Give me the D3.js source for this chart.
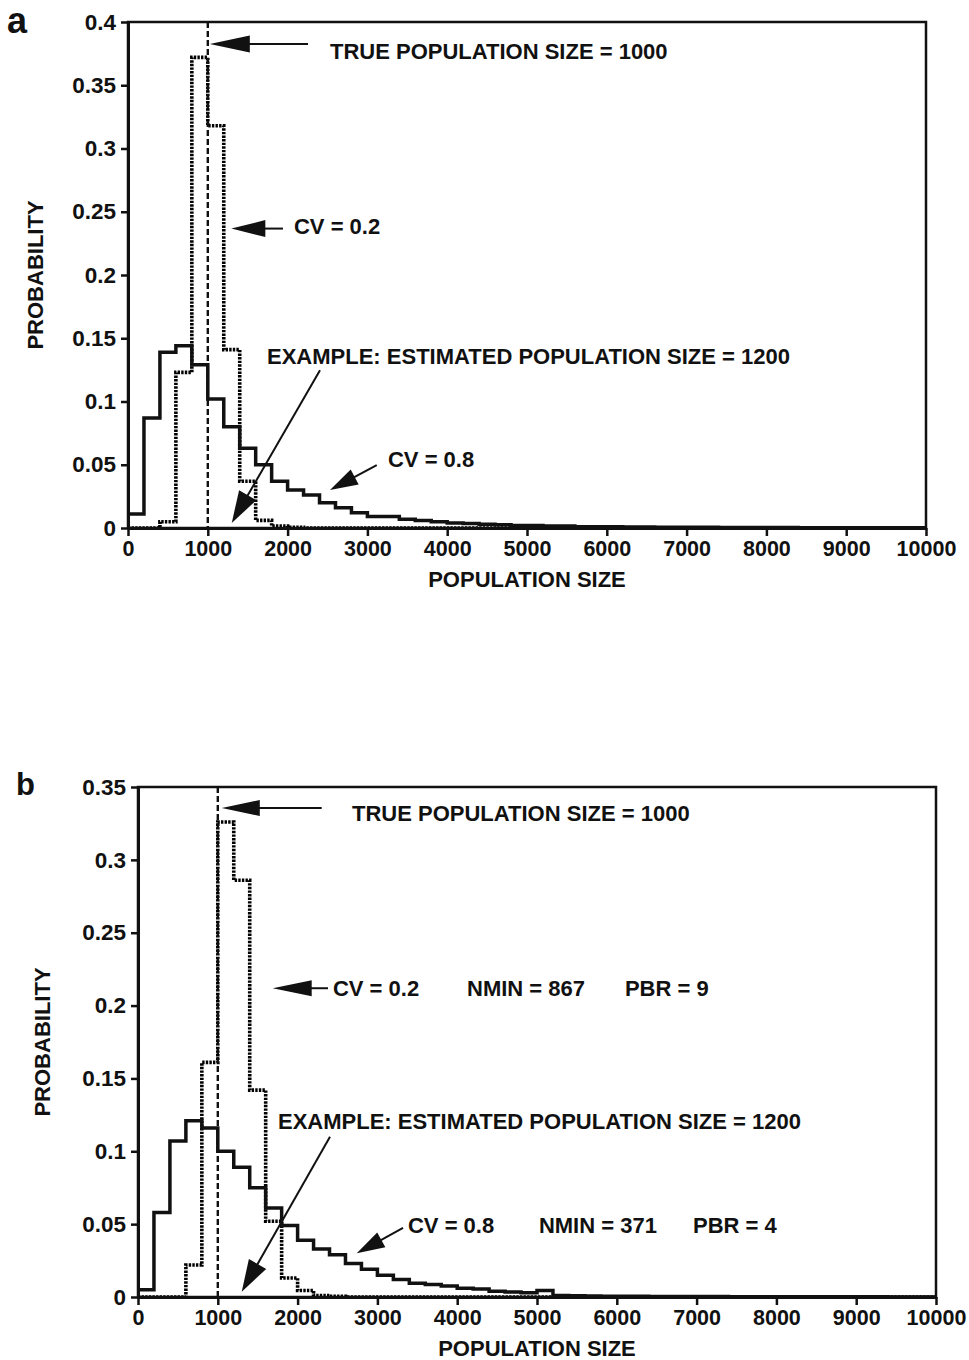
<!DOCTYPE html>
<html lang="en">
<head>
<meta charset="UTF-8">
<title>Population size - probability histograms</title>
<script src="https://cdn.jsdelivr.net/npm/d3@7"></script>
<style>
    body{
        margin: 0;
        background: #fff;
    }
    text{
        font-family: "Liberation Sans", Arial, sans-serif;
        font-weight: bold;
        fill: #111;
    }
    .axis text{
        font-size: 21.5px;
    }
    .axis.y text{
        font-size: 22.5px;
    }
    .axis line{
        stroke: #111;
        stroke-width: 2.5px;
    }
    .axis path{
        stroke: #111;
        stroke-width: 3px;
    }
    .frame{
        fill: none;
        stroke: #111;
        stroke-width: 2.5px;
    }
    .cv08{
        fill: none;
        stroke: #111;
        stroke-width: 3.5px;
    }
    .cv02{
        fill: none;
        stroke: #000;
        stroke-width: 3.6px;
        stroke-dasharray: 2.4 1.2;
    }
    .truth{
        stroke: #111;
        stroke-width: 2.4px;
        stroke-dasharray: 6 3;
    }
    .note{
        font-size: 22px;
    }
    .arrow-line{
        stroke: #111;
        stroke-width: 2px;
    }
    .arrow-head{
        fill: #111;
    }
</style>
</head>
<body>
<svg id="canvas" width="969" height="1360"></svg>

<script>
    // bins of 200 from 0 to 10000
    const binWidth = 200
    const xMax = 10000
    const xTicks = [0, 1000, 2000, 3000, 4000, 5000, 6000, 7000, 8000, 9000, 10000]
    const yTicksA = [0, 0.05, 0.1, 0.15, 0.2, 0.25, 0.3, 0.35, 0.4]
    const yTicksB = [0, 0.05, 0.1, 0.15, 0.2, 0.25, 0.3, 0.35]
    const trueSize = 1000

    // panel a
    const probA_cv08 = [0.011, 0.087, 0.139, 0.144, 0.129, 0.102, 0.080, 0.063, 0.050, 0.037,
        0.030, 0.026, 0.020, 0.016, 0.012, 0.009, 0.009, 0.007, 0.006, 0.005,
        0.004, 0.0035, 0.003, 0.0025, 0.002, 0.002, 0.0015, 0.0015, 0.001, 0.001,
        0.001, 0.0008, 0.0008, 0.0006, 0.0006, 0.0005, 0.0005, 0.0004, 0.0004, 0.0003,
        0.0003, 0.0003, 0.0002, 0.0002, 0.0002, 0.0002, 0.0001, 0.0001, 0.0001, 0.0001]
    const probA_cv02 = [0, 0, 0.005, 0.123, 0.372, 0.318, 0.141, 0.037, 0.006, 0.0015,
        0.0005, 0, 0, 0, 0, 0, 0, 0, 0, 0,
        0, 0, 0, 0, 0, 0, 0, 0, 0, 0,
        0, 0, 0, 0, 0, 0, 0, 0, 0, 0,
        0, 0, 0, 0, 0, 0, 0, 0, 0, 0]

    // panel b
    const probB_cv08 = [0.005, 0.058, 0.107, 0.121, 0.116, 0.100, 0.089, 0.075, 0.061, 0.049,
        0.039, 0.033, 0.029, 0.023, 0.019, 0.015, 0.012, 0.0094, 0.0085, 0.0075,
        0.006, 0.0055, 0.004, 0.0035, 0.003, 0.0045, 0.001, 0.0008, 0.0007, 0.0006,
        0.0005, 0.0005, 0.0004, 0.0004, 0.0003, 0.0003, 0.0003, 0.0002, 0.0002, 0.0002,
        0.0002, 0.0001, 0.0001, 0.0001, 0.0001, 0.0001, 0.0001, 0, 0, 0]
    const probB_cv02 = [0, 0, 0, 0.022, 0.161, 0.326, 0.286, 0.142, 0.052, 0.013,
        0.0045, 0.001, 0.0005, 0, 0, 0, 0, 0, 0, 0,
        0, 0, 0, 0, 0, 0, 0, 0, 0, 0,
        0, 0, 0, 0, 0, 0, 0, 0, 0, 0,
        0, 0, 0, 0, 0, 0, 0, 0, 0, 0]

    const labelTrue = "TRUE POPULATION SIZE = 1000"
    const labelExample = "EXAMPLE: ESTIMATED POPULATION SIZE = 1200"
    const labelCV02 = "CV = 0.2"
    const labelCV08 = "CV = 0.8"
    const extrasB02 = ["NMIN = 867", "PBR = 9"]
    const extrasB08 = ["NMIN = 371", "PBR = 4"]

    let svg = d3.select("#canvas")

    function arrow(g, sx, sy, tx, ty, len, half){
        const a = Math.atan2(ty - sy, tx - sx)
        const bx = tx - len * Math.cos(a), by = ty - len * Math.sin(a)
        const px = -Math.sin(a) * half, py = Math.cos(a) * half
        g.append("line").attr("class", "arrow-line")
            .attr("x1", sx).attr("y1", sy).attr("x2", bx + 2 * Math.cos(a)).attr("y2", by + 2 * Math.sin(a))
        g.append("path").attr("class", "arrow-head")
            .attr("d", `M${tx},${ty}L${bx + px},${by + py}L${bx - px},${by - py}Z`)
    }

    function panel(cfg){
        let g = svg.append("g")
        let x = d3.scaleLinear().domain([0, xMax]).range([cfg.left, cfg.right])
        let y = d3.scaleLinear().domain([0, cfg.yMax]).range([cfg.bottom, cfg.top])

        let step = d3.line()
            .x(d => x(d[0]))
            .y(d => y(d[1]))
            .curve(d3.curveStepAfter)
        const toPoints = vals => {
            let pts = vals.map((v, i) => [i * binWidth, v])
            pts.push([xMax, vals[vals.length - 1]])
            return pts
        }

        g.append("rect").attr("class", "frame")
            .attr("x", cfg.left).attr("y", cfg.top)
            .attr("width", cfg.right - cfg.left).attr("height", cfg.bottom - cfg.top)

        g.append("path").attr("class", "cv02").attr("d", step(toPoints(cfg.cv02)))
        g.append("path").attr("class", "cv08").attr("d", step(toPoints(cfg.cv08)))

        g.append("line").attr("class", "truth")
            .attr("x1", x(trueSize)).attr("x2", x(trueSize))
            .attr("y1", y(cfg.yMax)).attr("y2", y(0))

        g.append("g").attr("class", "axis x")
            .attr("transform", `translate(0,${cfg.bottom})`)
            .call(d3.axisBottom(x).tickValues(xTicks).tickSize(8).tickSizeOuter(0).tickPadding(5).tickFormat(d3.format("d")))
        g.append("g").attr("class", "axis y")
            .attr("transform", `translate(${cfg.left},0)`)
            .call(d3.axisLeft(y).tickValues(cfg.yTicks).tickSize(7).tickSizeOuter(0).tickPadding(5).tickFormat(d => String(d)))

        // axis titles and panel letter
        g.append("text").text("POPULATION SIZE")
            .attr("x", (cfg.left + cfg.right) / 2).attr("y", cfg.xTitleY)
            .attr("text-anchor", "middle").style("font-size", "22px")
        g.append("text").text("PROBABILITY")
            .attr("transform", `translate(${cfg.yTitleX},${(cfg.top + cfg.bottom) / 2}) rotate(-90)`)
            .attr("text-anchor", "middle").style("font-size", "22px")
        g.append("text").text(cfg.letter)
            .attr("x", cfg.letterPos[0]).attr("y", cfg.letterPos[1])
            .style("font-size", cfg.letterSize + "px")
            .style("font-weight", 900)

        // annotations, placed in data units
        cfg.notes.forEach(n => {
            g.append("text").attr("class", "note").text(n.text)
                .attr("x", x(n.at[0])).attr("y", y(n.at[1]))
        })
        cfg.arrows.forEach(a => {
            arrow(g, x(a.from[0]), y(a.from[1]), x(a.to[0]), y(a.to[1]), a.len, a.half)
        })
    }

    panel({
        left: 128, right: 926, top: 22, bottom: 528, yMax: 0.4, yTicks: yTicksA,
        cv08: probA_cv08, cv02: probA_cv02,
        xTitleY: 587, yTitleX: 43, letter: "a", letterPos: [7, 33], letterSize: 36,
        notes: [
            {text: labelTrue, at: [2531, 0.371]},
            {text: labelCV02, at: [2080, 0.2327]},
            {text: labelExample, at: [1742, 0.1294]},
            {text: labelCV08, at: [3258, 0.0481]}
        ],
        arrows: [
            {from: [2256, 0.3826], to: [1025, 0.3826], len: 40, half: 8.5},
            {from: [1942, 0.2367], to: [1295, 0.2367], len: 34, half: 8.5},
            {from: [2406, 0.1247], to: [1300, 0.004], len: 32, half: 10},
            {from: [3117, 0.0497], to: [2531, 0.030], len: 28, half: 8.5}
        ]
    })

    panel({
        left: 138, right: 936, top: 787, bottom: 1297, yMax: 0.35, yTicks: yTicksB,
        cv08: probB_cv08, cv02: probB_cv02,
        xTitleY: 1356, yTitleX: 50, letter: "b", letterPos: [16, 795], letterSize: 31,
        notes: [
            {text: labelTrue, at: [2682, 0.3267]},
            {text: labelCV02, at: [2443, 0.2066]},
            {text: extrasB02[0], at: [4123, 0.2066]},
            {text: extrasB02[1], at: [6102, 0.2066]},
            {text: labelExample, at: [1754, 0.115]},
            {text: labelCV08, at: [3383, 0.0439]},
            {text: extrasB08[0], at: [5024, 0.0439]},
            {text: extrasB08[1], at: [6955, 0.0439]}
        ],
        arrows: [
            {from: [2302, 0.3356], to: [1050, 0.3356], len: 38, half: 8},
            {from: [2381, 0.2119], to: [1688, 0.2119], len: 39, half: 8},
            {from: [2406, 0.110], to: [1300, 0.0036], len: 32, half: 10},
            {from: [3321, 0.0474], to: [2741, 0.030], len: 28, half: 8.5}
        ]
    })
</script>
</body>
</html>
